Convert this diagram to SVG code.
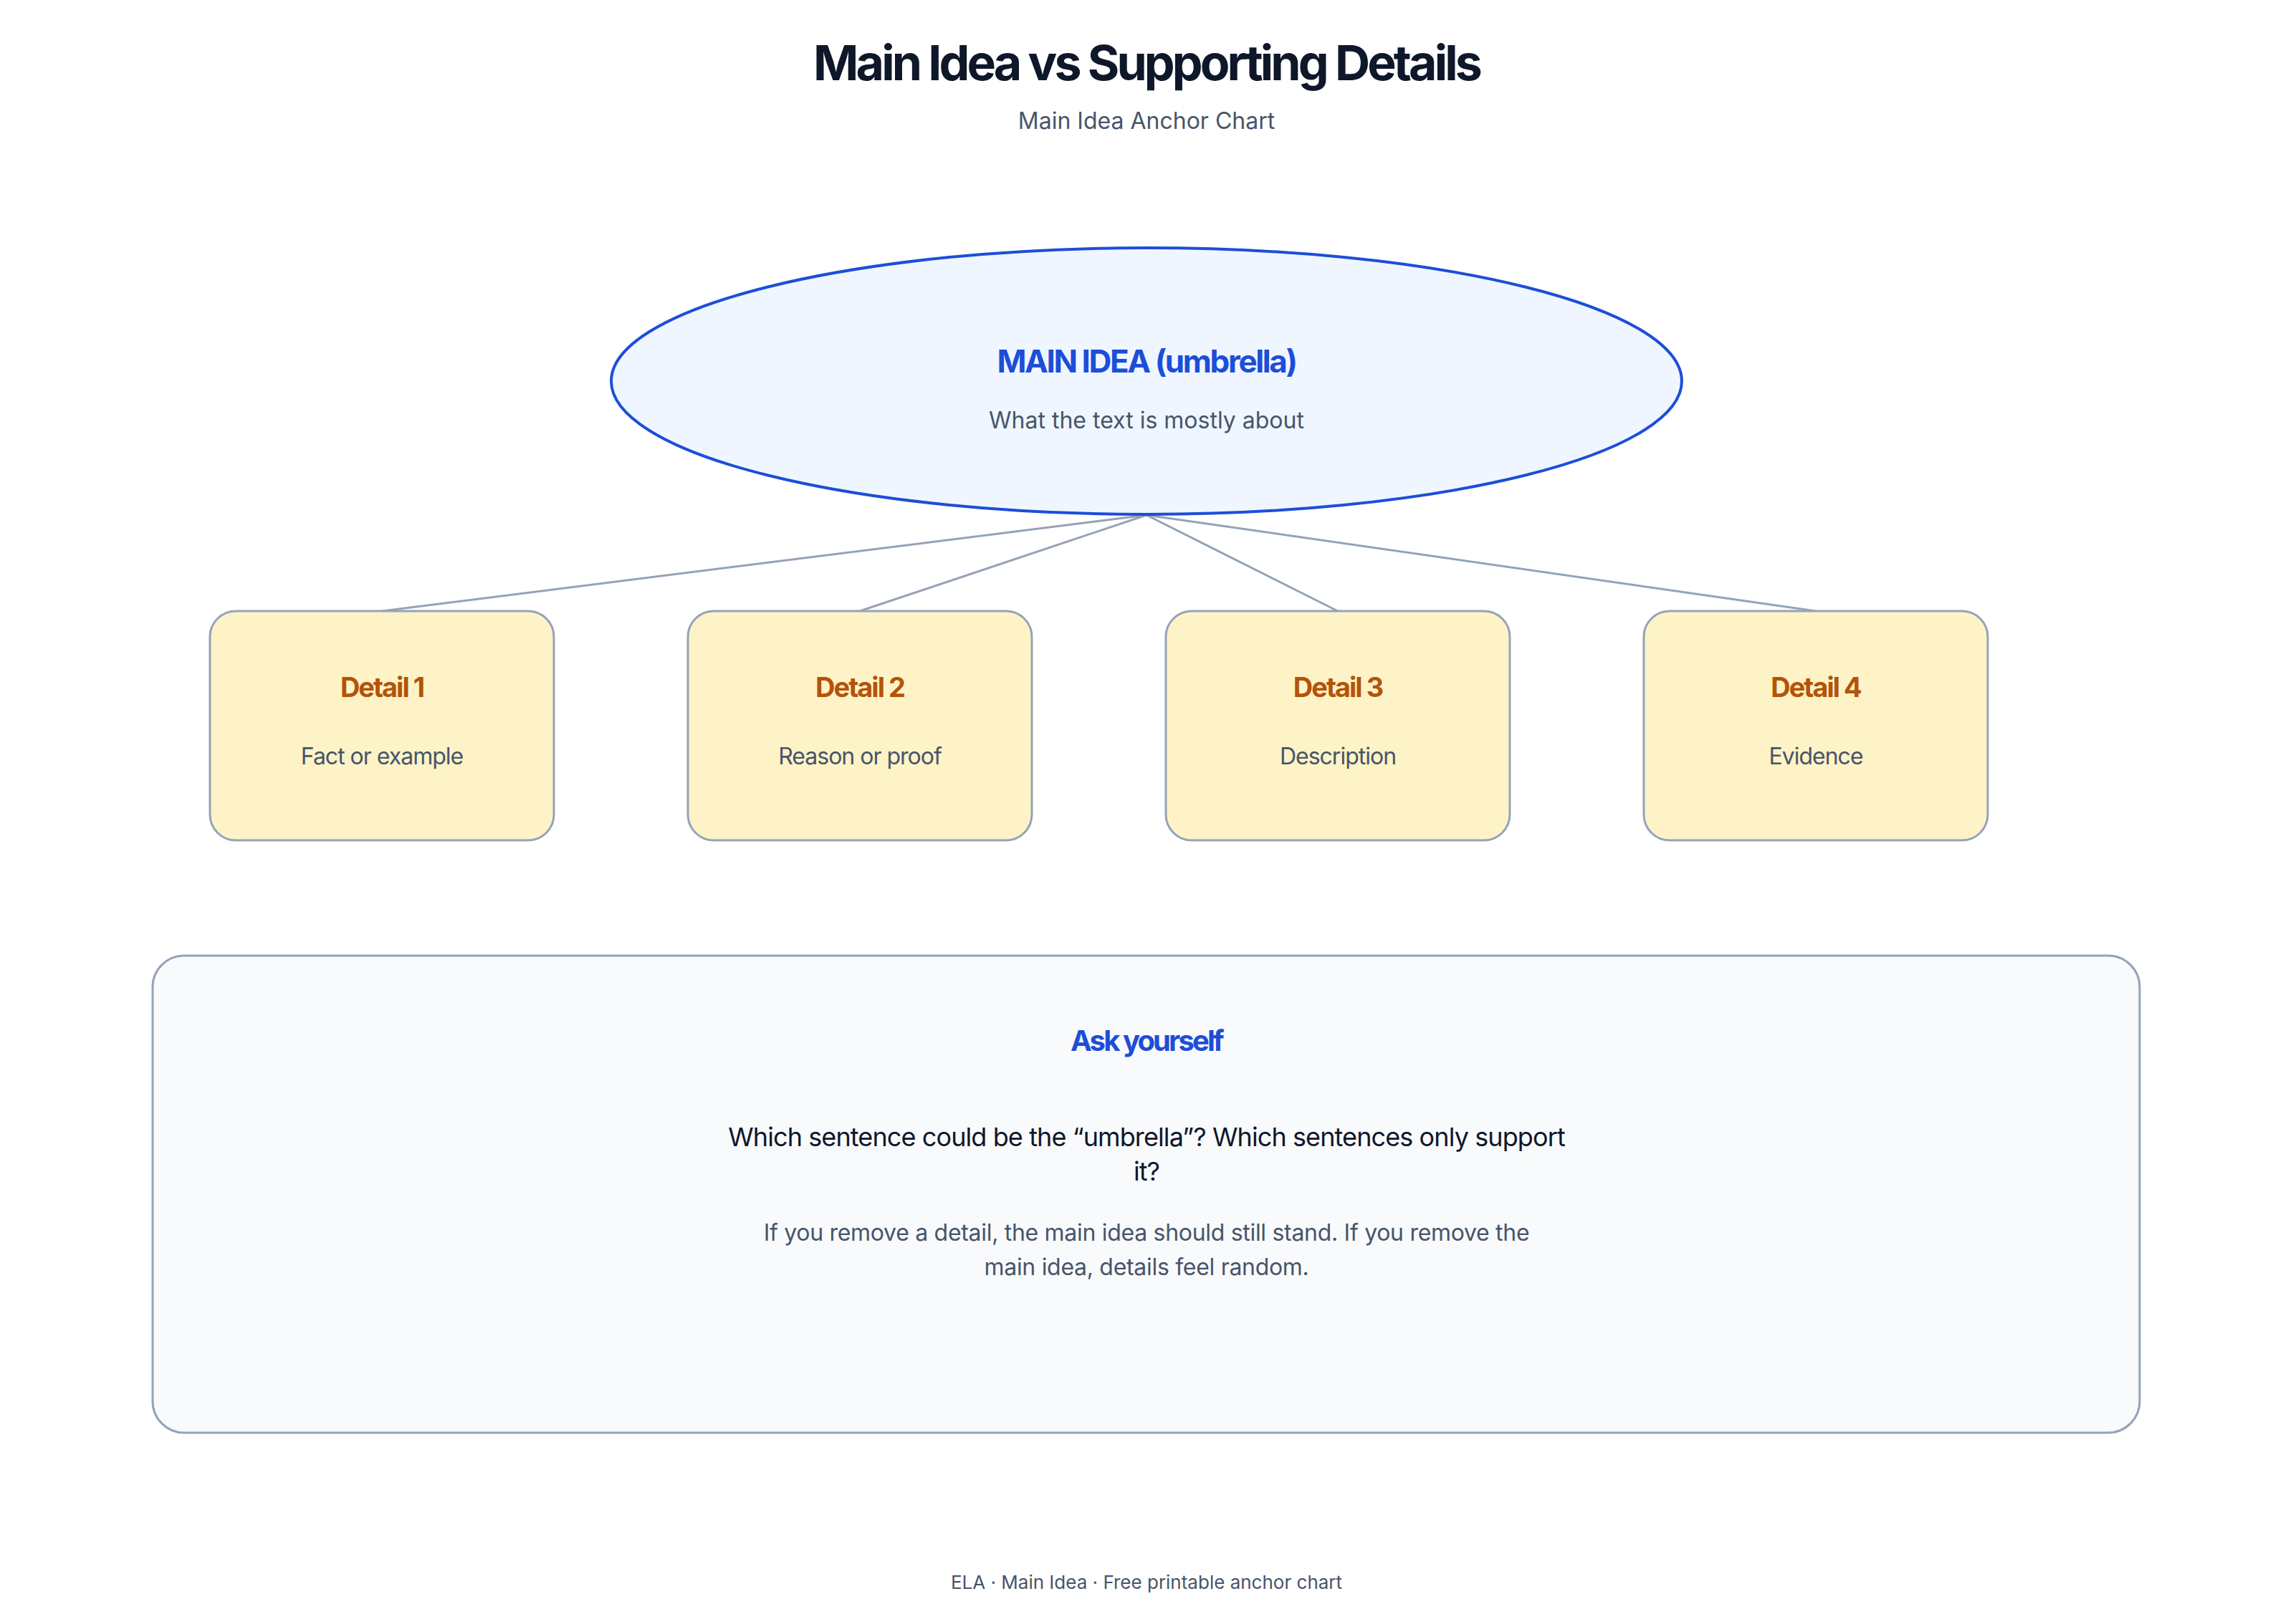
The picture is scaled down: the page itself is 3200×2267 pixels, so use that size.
<svg xmlns="http://www.w3.org/2000/svg" width="3200" height="2267" viewBox="0 0 3200 2267">
<style>
text{font-family:Inter,"Noto Sans","Liberation Sans",sans-serif;text-anchor:middle}
.title{font-size:68px;font-weight:700;fill:#0f172a;letter-spacing:-3.9px}
.sub{font-size:32px;fill:#475569}
.mainT{font-size:44px;font-weight:700;fill:#1d4ed8;letter-spacing:-2.4px}
.mainS{font-size:32px;fill:#475569}
.box{fill:#fef3c7;stroke:#94a3b8;stroke-width:3}
.dT{font-size:38px;font-weight:700;fill:#b45309;letter-spacing:-2px}
.dS{font-size:32px;fill:#475569;letter-spacing:-1px}
.conn{stroke:#94a3b8;stroke-width:3;fill:none}
.askT{font-size:40px;font-weight:700;fill:#1d4ed8;letter-spacing:-2.9px}
.q{font-size:36px;fill:#0f172a;letter-spacing:-0.9px}
.n{font-size:32px;fill:#475569;letter-spacing:-0.3px}
.foot{font-size:26px;fill:#475569}
</style>
<rect width="3200" height="2267" fill="#ffffff"/>
<g id="header">
<text class="title" x="1600" y="112">Main Idea vs Supporting Details</text>
<text class="sub" x="1600" y="180">Main Idea Anchor Chart</text>
</g>
<g id="connectors">
<line class="conn" x1="1600" y1="719" x2="533" y2="853"/>
<line class="conn" x1="1600" y1="719" x2="1200" y2="853"/>
<line class="conn" x1="1600" y1="719" x2="1867" y2="853"/>
<line class="conn" x1="1600" y1="719" x2="2534" y2="853"/>
</g>
<g id="main-idea">
<ellipse cx="1600" cy="532" rx="747" ry="186" fill="#eff6ff" stroke="#1d4ed8" stroke-width="4"/>
<text class="mainT" x="1600" y="520">MAIN IDEA (umbrella)</text>
<text class="mainS" x="1600" y="598">What the text is mostly about</text>
</g>
<g id="detail-1">
<rect class="box" x="293" y="853" width="480" height="320" rx="36"/>
<text class="dT" x="533" y="973">Detail 1</text>
<text class="dS" x="533" y="1067">Fact or example</text>
</g>
<g id="detail-2">
<rect class="box" x="960" y="853" width="480" height="320" rx="36"/>
<text class="dT" x="1200" y="973">Detail 2</text>
<text class="dS" x="1200" y="1067">Reason or proof</text>
</g>
<g id="detail-3">
<rect class="box" x="1627" y="853" width="480" height="320" rx="36"/>
<text class="dT" x="1867" y="973">Detail 3</text>
<text class="dS" x="1867" y="1067">Description</text>
</g>
<g id="detail-4">
<rect class="box" x="2294" y="853" width="480" height="320" rx="36"/>
<text class="dT" x="2534" y="973">Detail 4</text>
<text class="dS" x="2534" y="1067">Evidence</text>
</g>
<g id="ask-yourself">
<rect x="213" y="1334" width="2773" height="666" rx="44" fill="#f8fafc" stroke="#94a3b8" stroke-width="3"/>
<text class="askT" x="1600" y="1467">Ask yourself</text>
<text class="q" x="1600" y="1600">Which sentence could be the “umbrella”? Which sentences only support</text>
<text class="q" x="1600" y="1648">it?</text>
<text class="n" x="1600" y="1732">If you remove a detail, the main idea should still stand. If you remove the</text>
<text class="n" x="1600" y="1780">main idea, details feel random.</text>
</g>
<g id="footer">
<text class="foot" x="1600" y="2218">ELA · Main Idea · Free printable anchor chart</text>
</g>
</svg>
